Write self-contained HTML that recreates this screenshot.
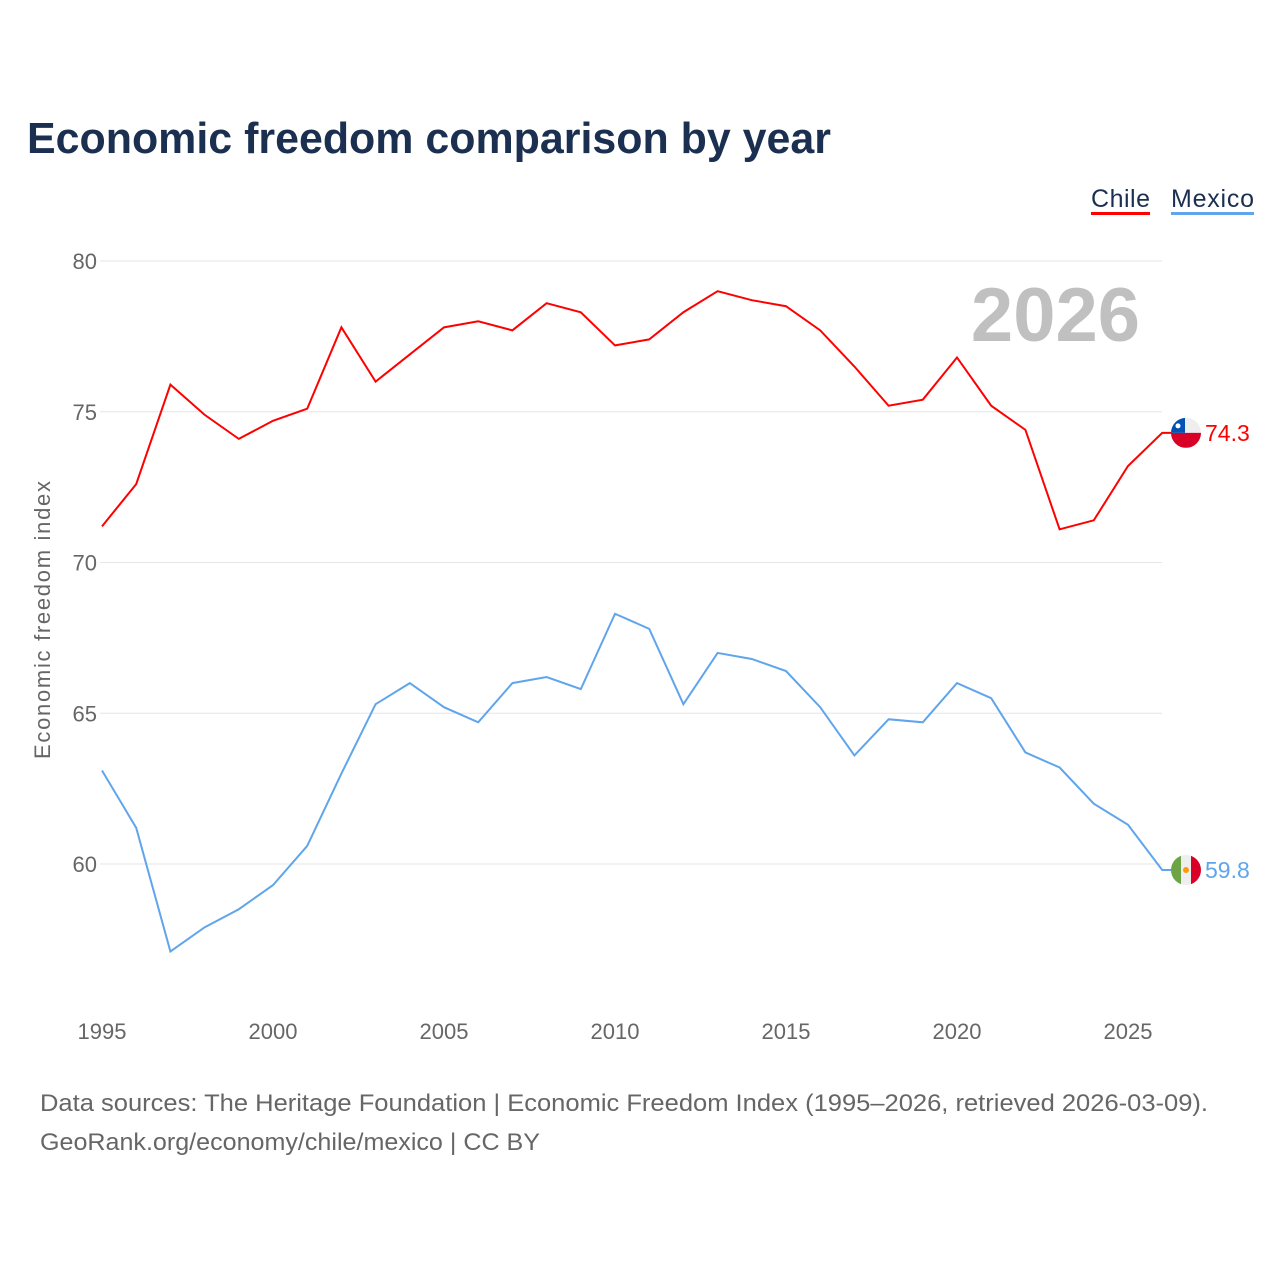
<!DOCTYPE html>
<html><head><meta charset="utf-8"><style>
body{margin:0;background:#fff;font-family:"Liberation Sans",sans-serif}
</style></head><body>
<svg id="chart" width="1280" height="1280" xmlns="http://www.w3.org/2000/svg" style="display:block">
<rect width="1280" height="1280" fill="#fff"/>
<text x="27" y="153" font-size="44" font-weight="bold" fill="#1b3050" textLength="804" lengthAdjust="spacingAndGlyphs">Economic freedom comparison by year</text>
<g>
<text x="1091" y="207" font-size="25" fill="#1b3050" textLength="59">Chile</text>
<rect x="1091" y="212" width="59" height="3" fill="#ff0000"/>
<text x="1171" y="207" font-size="25" fill="#1b3050" textLength="83">Mexico</text>
<rect x="1171" y="212" width="83" height="3" fill="#60a5ec"/>
</g>
<text x="1140" y="341" text-anchor="end" font-size="76" font-weight="bold" fill="#c0c0c0">2026</text>
<text transform="translate(50,620) rotate(-90)" text-anchor="middle" font-size="22" fill="#666" textLength="278">Economic freedom index</text>
<g id="grid"></g><g id="series"></g>
<text x="40" y="1111" font-size="24" fill="#666" textLength="1168" lengthAdjust="spacingAndGlyphs">Data sources: The Heritage Foundation | Economic Freedom Index (1995–2026, retrieved 2026-03-09).</text>
<text x="40" y="1150" font-size="24" fill="#666" textLength="500" lengthAdjust="spacingAndGlyphs">GeoRank.org/economy/chile/mexico | CC BY</text>
</svg>
<script>
const years=[1995,1996,1997,1998,1999,2000,2001,2002,2003,2004,2005,2006,2007,2008,2009,2010,2011,2012,2013,2014,2015,2016,2017,2018,2019,2020,2021,2022,2023,2024,2025,2026];
const chile=[71.2,72.6,75.9,74.9,74.1,74.7,75.1,77.8,76.0,76.9,77.8,78.0,77.7,78.6,78.3,77.2,77.4,78.3,79.0,78.7,78.5,77.7,76.5,75.2,75.4,76.8,75.2,74.4,71.1,71.4,73.2,74.3];
const mexico=[63.1,61.2,57.1,57.9,58.5,59.3,60.6,63.0,65.3,66.0,65.2,64.7,66.0,66.2,65.8,68.3,67.8,65.3,67.0,66.8,66.4,65.2,63.6,64.8,64.7,66.0,65.5,63.7,63.2,62.0,61.3,59.8];
const yTicks=[60,65,70,75,80];
const xTicks=[1995,2000,2005,2010,2015,2020,2025];
const NS="http://www.w3.org/2000/svg";
const x=v=>102+(v-1995)*(1128-102)/30;
const y=v=>261+(80-v)*(864-261)/20;
function mk(t,a,p){const e=document.createElementNS(NS,t);for(const k in a)e.setAttribute(k,a[k]);p.appendChild(e);return e;}
const g=document.getElementById('grid'),s=document.getElementById('series');
yTicks.forEach(v=>{
 const l=mk('line',{x1:100,x2:1162,y1:y(v),y2:y(v),stroke:'#e6e6e6','stroke-width':1},g);
 
 
 const t=mk('text',{x:97,y:y(v)+8,'text-anchor':'end','font-size':22,fill:'#666'},g);t.textContent=v;
 
 
});
xTicks.forEach(v=>{
 const t=mk('text',{x:x(v),y:1039,'text-anchor':'middle','font-size':22,fill:'#666'},g);t.textContent=v;
 
 
});
function line(vals,col,name){
 const pts=vals.map((v,i)=>x(years[i])+','+y(v));
 const last=vals[vals.length-1];
 pts.push('1172,'+y(last));
 const p=mk('polyline',{points:pts.join(' '),fill:'none',stroke:col,'stroke-width':2},s);
 
 
 const t=mk('text',{x:1205,y:y(last)+8,'font-size':23,fill:col},s);t.textContent=last.toFixed(1);
 
 
 return y(last);
}
const cy=line(chile,'#ff0000','chile');
const my=line(mexico,'#60a5ec','mexico');
let f=mk('g',{},s);


const cc=mk('clipPath',{id:'cc'},f);mk('circle',{cx:1186,cy:cy,r:15},cc);
const cg=mk('g',{'clip-path':'url(#cc)'},f);
mk('rect',{x:1171,y:cy-15,width:30,height:15,fill:'#eee'},cg);
mk('rect',{x:1171,y:cy,width:30,height:15,fill:'#d80027'},cg);
mk('rect',{x:1171,y:cy-15,width:14,height:15,fill:'#0052b4'},cg);
mk('circle',{cx:1178,cy:cy-7,r:2.5,fill:'#fff'},cg);
f=mk('g',{},s);


const mc=mk('clipPath',{id:'mc'},f);mk('circle',{cx:1186,cy:my,r:15},mc);
const mg=mk('g',{'clip-path':'url(#mc)'},f);
mk('rect',{x:1171,y:my-15,width:10,height:30,fill:'#6da544'},mg);
mk('rect',{x:1181,y:my-15,width:10,height:30,fill:'#eee'},mg);
mk('rect',{x:1191,y:my-15,width:10,height:30,fill:'#d80027'},mg);
mk('circle',{cx:1186,cy:my,r:3,fill:'#ff9811'},mg);
</script>
</body></html>
